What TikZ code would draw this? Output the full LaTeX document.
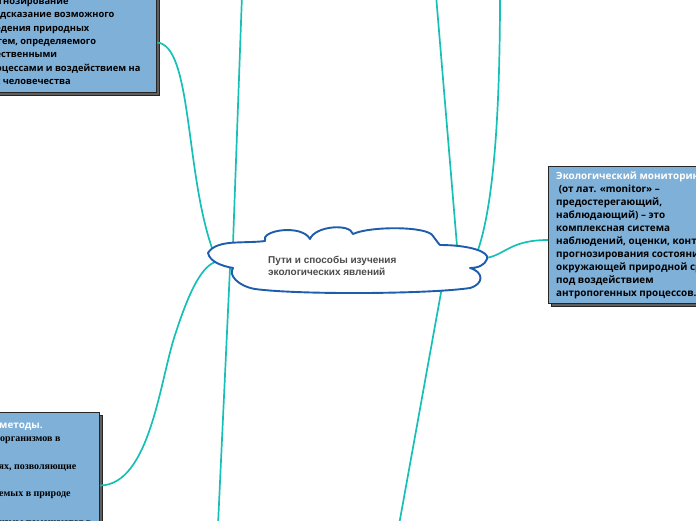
\documentclass[tikz,border=0pt]{standalone}
\usepackage{fontspec}
\usetikzlibrary{calc}
\newfontfamily\boxfont{Open Sans}
\newfontfamily\cloudfont{Liberation Sans}
\newfontfamily\serffont{Liberation Serif}
\definecolor{linkc}{RGB}{22,192,182}
\definecolor{boxc}{RGB}{126,176,216}
\definecolor{cloudc}{RGB}{30,92,172}
\definecolor{shadc}{RGB}{95,95,95}
\definecolor{txtgray}{RGB}{75,75,75}
\begin{document}
\begin{tikzpicture}[x=1pt,y=-1pt,
  link/.style={draw=linkc, line width=1.7pt},
  topicbox/.style={rectangle, fill=boxc, draw=black!85, line width=1pt, inner sep=0pt},
  shadowbox/.style={rectangle, fill=shadc, draw=black!85, line width=0.8pt, inner sep=0pt},
  boxtxt/.style={inner sep=0pt, anchor=base west, font=\boxfont\bfseries\fontsize{9.9}{12}\selectfont, text=black},
  boxhead/.style={boxtxt, text=white},
  smalltxt/.style={boxtxt, font=\boxfont\bfseries\fontsize{9.3}{11}\selectfont},
  sertxt/.style={inner sep=0pt, anchor=base west, font=\serffont\bfseries\fontsize{10}{12}\selectfont, text=black},
  cloudtxt/.style={inner sep=0pt, anchor=base west, font=\cloudfont\bfseries\fontsize{10}{12}\selectfont, text=txtgray},
  cloudline/.style={draw=cloudc, line width=1.9pt, fill=white, line join=round}
]
\useasboundingbox (0,0) rectangle (696,520);
\clip (0,0) rectangle (696,520);

% ports on the central cloud and free ends
\coordinate (cTL) at (212,248);
\coordinate (cTop) at (233,244);
\coordinate (cBL) at (215,262);
\coordinate (cBot) at (230,268);
\coordinate (cRtop) at (457,246);
\coordinate (cRtop2) at (478,250);
\coordinate (cR) at (486,258);
\coordinate (cRbot) at (442,287);
\coordinate (offTop) at (242,-5);
\coordinate (offBot) at (218,525);
\coordinate (offTopR) at (436,-5);
\coordinate (offTopR2) at (500,-5);
\coordinate (offBotR) at (399,525);

% boxes (shadows first)
\node[shadowbox, minimum width=200, minimum height=100, anchor=south east] (tls) at (160,96) {};
\node[topicbox, minimum width=200, minimum height=100, anchor=south east] (tl) at (157,93) {};
\node[shadowbox, minimum width=170, minimum height=137, anchor=north west] (rbs) at (551,169) {};
\node[topicbox, minimum width=170, minimum height=137, anchor=north west] (rb) at (548,166) {};
\node[shadowbox, minimum width=140, minimum height=146, anchor=north east] (bls) at (103,415) {};
\node[topicbox, minimum width=140, minimum height=146, anchor=north east] (bl) at (100,412) {};

% connectors
\draw[link] (tl.east) .. controls (192,45) and (185,170) .. (cTL);
\draw[link] (offTop) -- (cTop);
\draw[link] (cBot) -- (offBot);
\draw[link] (bl.east) .. controls (150,485) and (160,380) .. (175,335) .. controls (188,295) and (200,268) .. (cBL);
\draw[link] (offTopR) -- (cRtop);
\draw[link] (offTopR2) .. controls (500,100) and (495,200) .. (cRtop2);
\draw[link] (cR) .. controls (505,255) and (510,240) .. ($(rb.north west)+(0,74)$);
\draw[link] (cRbot) -- (offBotR);

% central cloud
\path[cloudline] (208,253)
  .. controls (212,246) and (222,243) .. (236,242.5)
  .. controls (248,242) and (258,242) .. (265,241)
  .. controls (260,230) and (302,224) .. (310,239)
  .. controls (315,226) and (350,223) .. (353,234)
  .. controls (370,226) and (428,226) .. (433,236)
  .. controls (436,240) and (438,243) .. (440,245)
  .. controls (470,245) and (490,252) .. (487,259)
  .. controls (485,265) and (478,268) .. (470,268)
  .. controls (484,272) and (484,284) .. (470,288)
  .. controls (430,294) and (300,295) .. (255,289)
  .. controls (238,286) and (228,275) .. (233,268)
  .. controls (222,266) and (210,262) .. (208,253) -- cycle;
\node[cloudtxt] (ct1) at (268,263) {Пути и способы изучения};
\node[cloudtxt] (ct2) at (268,275) {экологических явлений};

% top-left box text
\node[smalltxt] (tl1) at (-20,4.5) {Прогнозирование};
\node[smalltxt] (tl2) at (-17.5,17.8) {предсказание возможного};
\node[smalltxt] (tl3) at (-22.5,31.1) {поведения природных};
\node[smalltxt] (tl4) at (-19.5,44.4) {систем, определяемого};
\node[smalltxt] (tl5) at (-20,57.7) {естественными};
\node[smalltxt] (tl6) at (-16,71) {процессами и воздействием на};
\node[smalltxt] (tl7) at (-18,84.3) {них человечества};

% right box text
\node[boxhead] (rb1) at (556,179.5) {Экологический мониторинг};
\node[boxtxt] (rb2) at (556,192.5) {\ (от лат. «monitor» –};
\node[boxtxt] (rb3) at (556,205.5) {предостерегающий,};
\node[boxtxt] (rb4) at (556,218.5) {наблюдающий) – это};
\node[boxtxt] (rb5) at (556,231.5) {комплексная система};
\node[boxtxt] (rb6) at (556,244.5) {наблюдений, оценки, контроля и};
\node[boxtxt] (rb7) at (556,257.5) {прогнозирования состояния};
\node[boxtxt] (rb8) at (556,270.5) {окружающей природной среды};
\node[boxtxt] (rb9) at (556,283.5) {под воздействием};
\node[boxtxt] (rb10) at (556,296.5) {антропогенных процессов.};

% bottom-left box text
\node[boxhead] (bl1) at (-1,428) {методы.};
\node[sertxt] (bl2) at (0,441) {организмов в};
\node[sertxt] (bl3) at (-1.5,469) {ях, позволяющие};
\node[sertxt] (bl4) at (-1,496) {емых в природе};
\node[sertxt] (bl5) at (-1,525) {измы помещаются в};
\end{tikzpicture}
\end{document}
